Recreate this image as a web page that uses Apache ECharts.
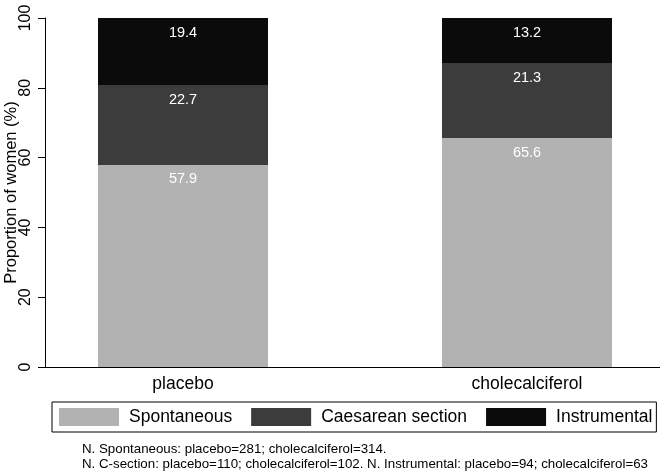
<!DOCTYPE html>
<html>
<head>
<meta charset="utf-8">
<script src="https://cdn.jsdelivr.net/npm/echarts@6/dist/echarts.min.js"></script>
<style>html,body{margin:0;padding:0;background:#fff}#c{width:667px;height:472px}</style>
</head>
<body>
<div id="c"></div>
<script>
const categories = ['placebo', 'cholecalciferol'];
const spontaneous = [57.9, 65.6];
const caesarean = [22.7, 21.3];
const instrumental = [19.4, 13.2];
const seriesNames = ['Spontaneous', 'Caesarean section', 'Instrumental'];
const yTicks = { min: 0, max: 100, interval: 20 };
const notes = [
  'N. Spontaneous: placebo=281; cholecalciferol=314.',
  'N. C-section: placebo=110; cholecalciferol=102. N. Instrumental: placebo=94; cholecalciferol=63'
];

const FONT = 'Liberation Sans, Arial, sans-serif';
const colors = ['#b2b2b2', '#3c3c3c', '#0b0b0b'];
const chart = echarts.init(document.getElementById('c'), null, { renderer: 'canvas' });

function mk(name, data, color) {
  return {
    name, type: 'bar', stack: 'a', data, barWidth: 170,
    itemStyle: { color },
    label: {
      show: true, position: 'insideTop', distance: 7,
      color: '#fff', fontSize: 14.5, fontFamily: FONT,
      formatter: p => p.value.toFixed(1)
    }
  };
}

chart.setOption({
  animation: false,
  textStyle: { fontFamily: FONT },
  grid: { left: 11, width: 688, top: 18, height: 349, containLabel: false, outerBoundsMode: 'none' },
  xAxis: {
    type: 'category', data: categories,
    axisLine: { show: false }, axisTick: { show: false },
    axisLabel: { fontSize: 17.5, color: '#000', margin: 8, fontFamily: FONT }
  },
  yAxis: {
    type: 'value', min: yTicks.min, max: yTicks.max, interval: yTicks.interval,
    offset: -34,
    name: 'Proportion of women (%)', nameLocation: 'middle', nameRotate: 90, nameGap: 25,
    nameMoveOverlap: false,
    nameTextStyle: { fontSize: 16.5, color: '#000', fontFamily: FONT },
    axisLine: { show: true, lineStyle: { color: '#000', width: 1 } },
    axisTick: { show: true, length: 7, lineStyle: { color: '#000' } },
    splitLine: { show: false },
    axisLabel: { rotate: 90, fontSize: 16, color: '#000', margin: 11, fontFamily: FONT }
  },
  legend: {
    data: seriesNames, left: 52, top: 402, orient: 'horizontal',
    itemWidth: 60, itemHeight: 18, itemGap: 19, icon: 'rect',
    padding: [6, 4, 6, 7],
    borderColor: '#000', borderWidth: 1,
    textStyle: { fontSize: 17.5, color: '#000', fontFamily: FONT, padding: [0, 0, 0, 5] },
    selectedMode: false
  },
  graphic: [
    { type: 'line', shape: { x1: 40, y1: 367.5, x2: 660, y2: 367.5 }, style: { stroke: '#000', lineWidth: 1 } },
    { type: 'text', left: 82, top: 443, style: { text: notes[0], fontSize: 13.3, fill: '#000', fontFamily: FONT } },
    { type: 'text', left: 82, top: 458, style: { text: notes[1], fontSize: 13.3, fill: '#000', fontFamily: FONT } }
  ],
  series: [
    mk(seriesNames[0], spontaneous, colors[0]),
    mk(seriesNames[1], caesarean, colors[1]),
    mk(seriesNames[2], instrumental, colors[2])
  ]
});
</script>
</body>
</html>
